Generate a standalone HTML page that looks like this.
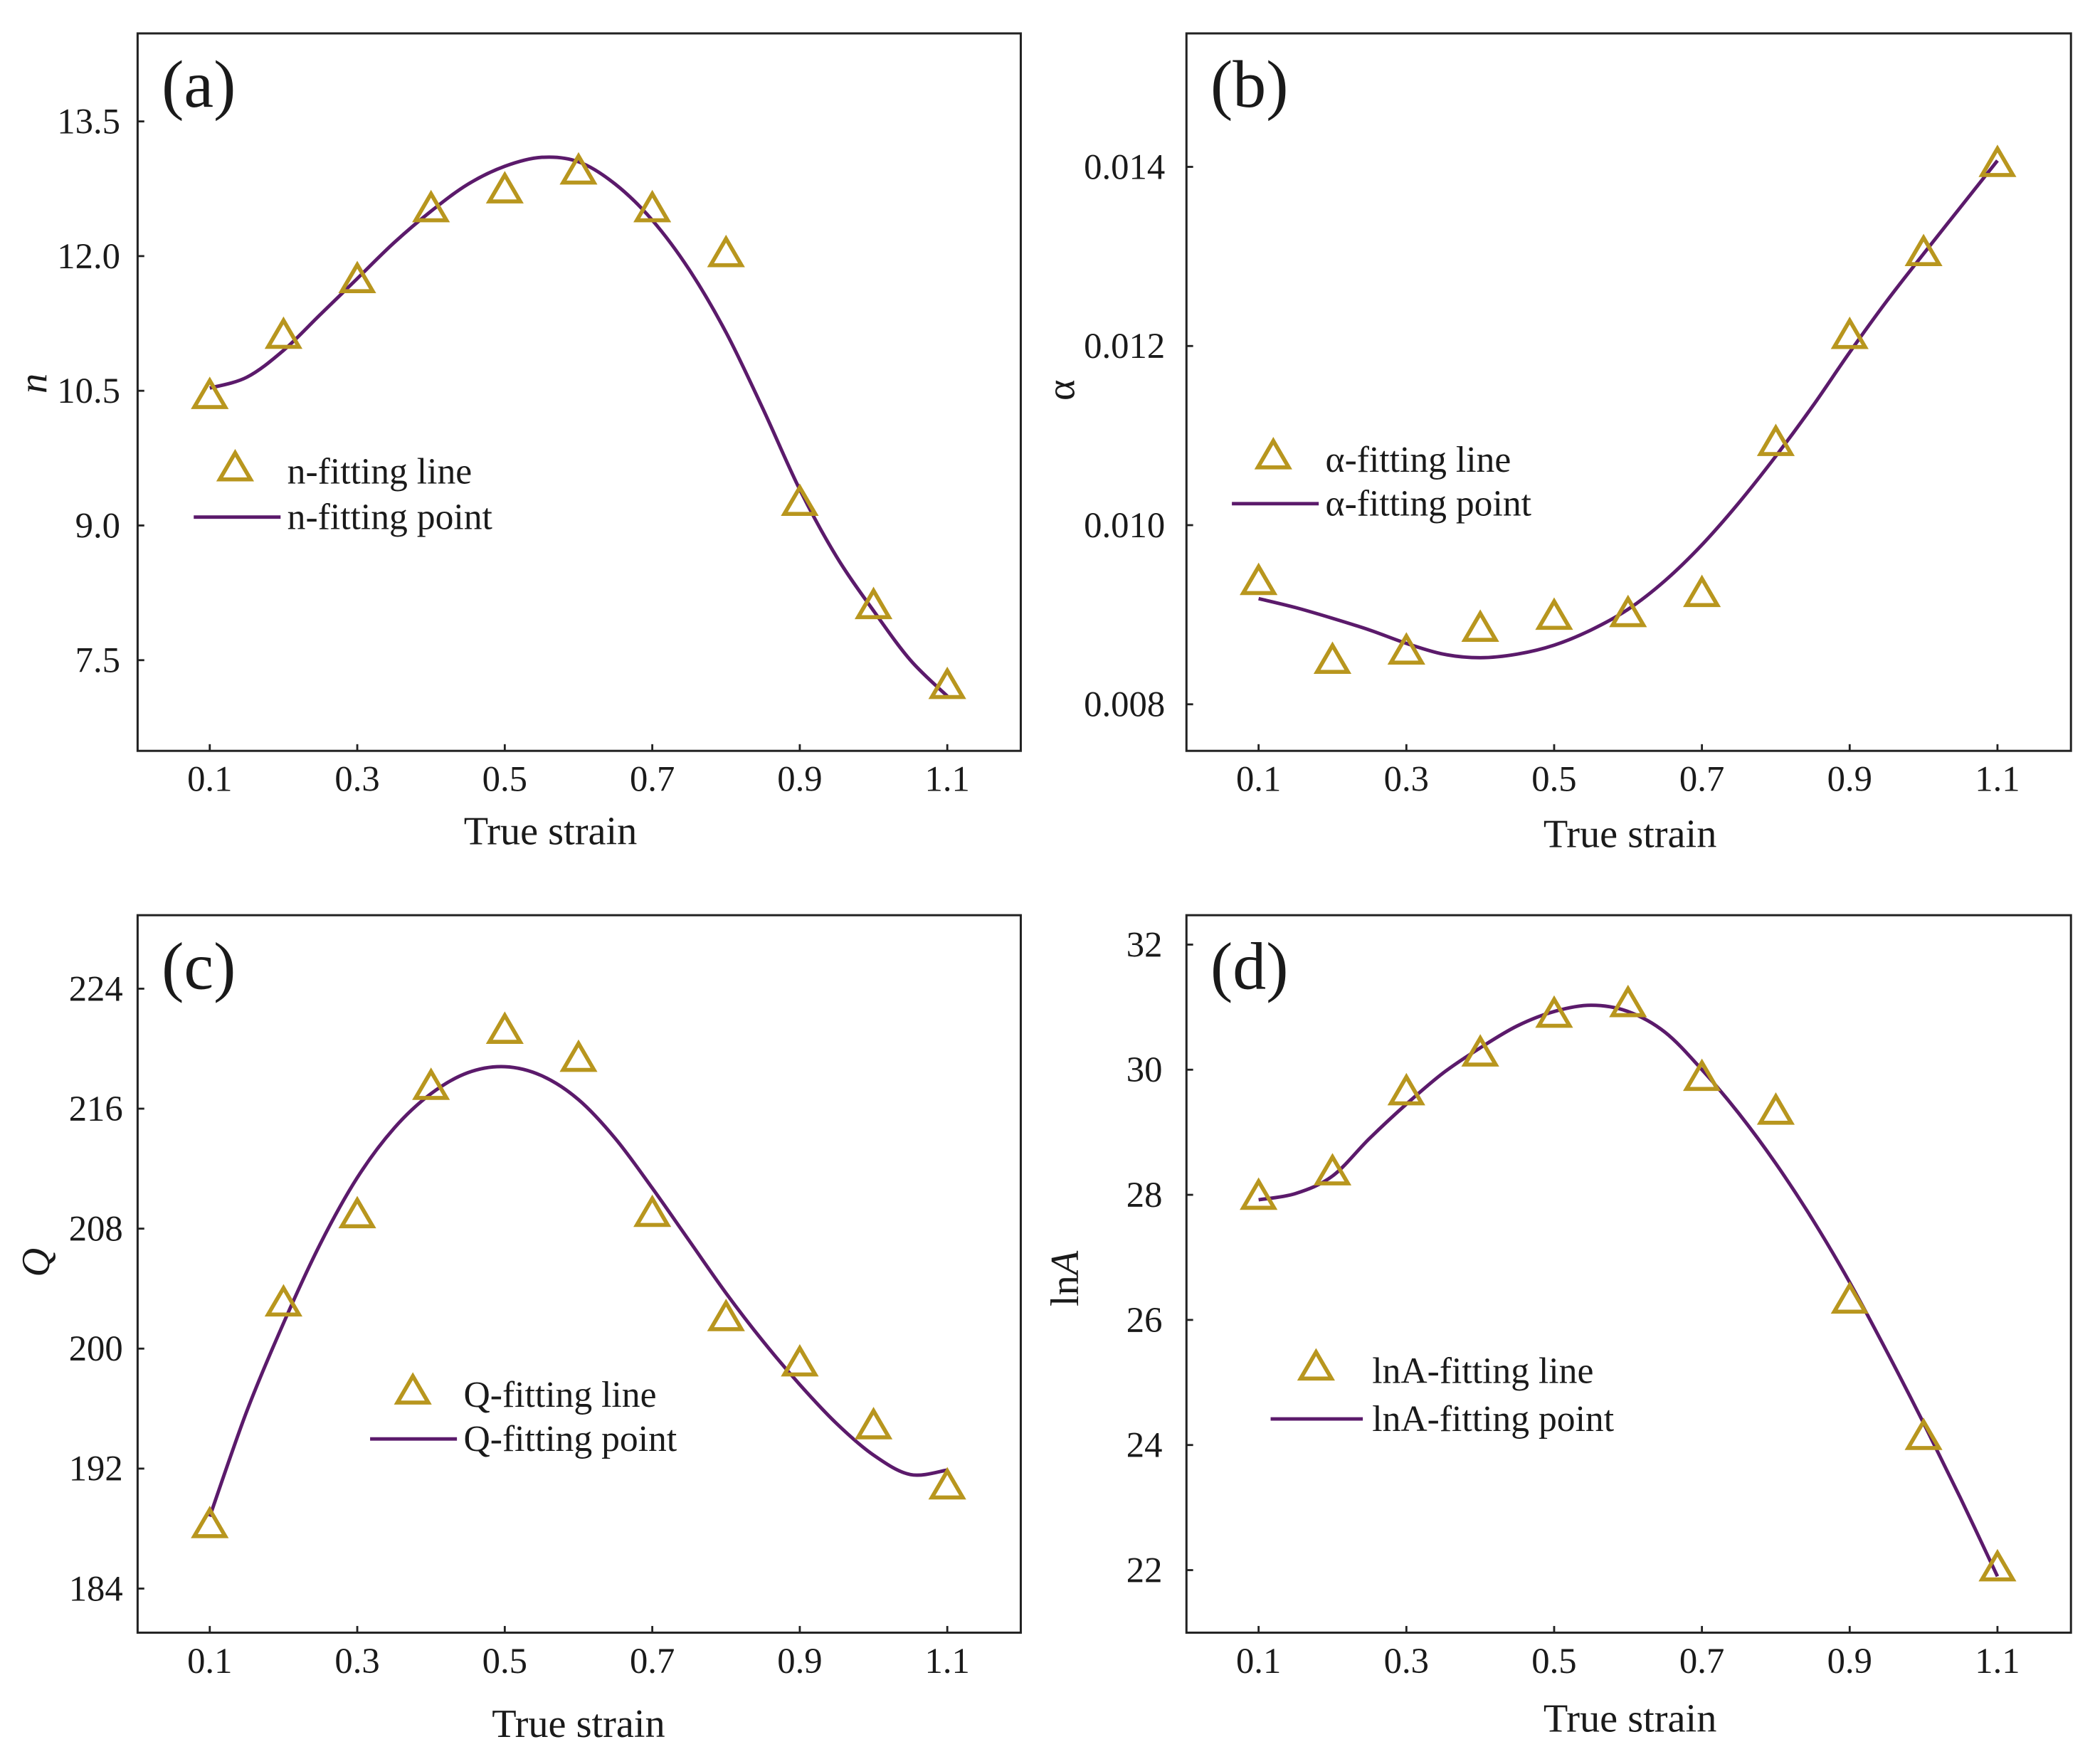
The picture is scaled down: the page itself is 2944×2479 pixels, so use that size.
<!DOCTYPE html>
<html><head><meta charset="utf-8"><style>
html,body{margin:0;padding:0;background:#fff;}
svg{display:block;}
text{font-family:"Liberation Serif",serif;fill:#1a1a1a;}
</style></head><body>
<svg id="fig" width="2944" height="2479" viewBox="0 0 1568 1320.3" preserveAspectRatio="none" xmlns="http://www.w3.org/2000/svg"></svg>
<script>
const xCats = [0.1,0.2,0.3,0.4,0.5,0.6,0.7,0.8,0.9,1.0,1.1];
const xTickLabels = ["0.1","0.3","0.5","0.7","0.9","1.1"];
const xTickValues = [0.1,0.3,0.5,0.7,0.9,1.1];
const curveX = [0.1,0.15,0.2,0.25,0.3,0.35,0.4,0.45,0.5,0.55,0.6,0.65,0.7,0.75,0.8,0.85,0.9,0.95,1.0,1.05,1.1];

const nPoints = [10.45,11.12,11.74,12.53,12.74,12.95,12.53,12.03,9.26,8.11,7.22];
const nCurve = [10.53,10.65,10.95,11.35,11.75,12.15,12.5,12.8,13.0,13.1,13.05,12.8,12.4,11.85,11.15,10.3,9.4,8.65,8.05,7.5,7.1];
const nTicks = [7.5,9.0,10.5,12.0,13.5];
const nTickLabels = ["7.5","9.0","10.5","12.0","13.5"];

const aPoints = [0.009373,0.008493,0.008597,0.008851,0.008985,0.009015,0.009239,0.010925,0.01212,0.013045,0.01404];
const aCurve = [0.00918,0.00908,0.00896,0.00883,0.00868,0.00856,0.00852,0.00856,0.00866,0.00883,0.00906,0.00938,0.00978,0.01025,0.01077,0.01133,0.01193,0.0125,0.01303,0.01355,0.01407];
const aTicks = [0.008,0.010,0.012,0.014];
const aTickLabels = ["0.008","0.010","0.012","0.014"];

const qPoints = [188.28,203.06,208.94,217.5,221.24,219.37,209.03,202.08,199.06,194.87,190.86];
const qCurve = [188.8,195.8,201.7,207.0,211.4,214.7,217.0,218.4,218.8,218.2,216.6,214.0,210.7,207.2,203.7,200.5,197.6,195.0,192.9,191.6,191.9];
const qTicks = [184,192,200,208,216,224];
const qTickLabels = ["184","192","200","208","216","224"];

const lPoints = [27.98,28.37,29.65,30.27,30.89,31.06,29.88,29.34,26.32,24.14,22.04];
const lCurve = [27.92,28.02,28.3,28.9,29.45,29.95,30.35,30.7,30.93,31.03,30.93,30.6,30.0,29.3,28.5,27.6,26.6,25.5,24.35,23.15,21.9];
const lTicks = [22,24,26,28,30,32];
const lTickLabels = ["22","24","26","28","30","32"];

const NS = "http://www.w3.org/2000/svg";
const svg = document.getElementById('fig');
function mk(tag, attrs, parent){const e=document.createElementNS(NS,tag);for(const k in attrs)e.setAttribute(k,attrs[k]);(parent||svg).appendChild(e);return e;}

const panels = [
 {id:'a',L:103,R:764,T:25,B:562,ymin:6.49,ymax:14.48,pts:nPoints,cur:nCurve,ticks:nTicks,tl:nTickLabels,ylab:'n',ylx:28,yly:287,ital:true,
  leg:{tx:176,ty:350,lx1:145,lx2:210,ly:387,txt:215},l1:'n-fitting line',l2:'n-fitting point',xt:412,xty:632,tlx:90},
 {id:'b',L:888,R:1550,T:25,B:562,ymin:0.00748,ymax:0.01549,pts:aPoints,cur:aCurve,ticks:aTicks,tl:aTickLabels,ylab:'α',ylx:797,yly:292,ital:false,
  leg:{tx:953,ty:341,lx1:922,lx2:987,ly:377,txt:992},l1:'α-fitting line',l2:'α-fitting point',xt:1220,xty:634,tlx:872},
 {id:'c',L:103,R:764,T:685,B:1222,ymin:181.06,ymax:228.9,pts:qPoints,cur:qCurve,ticks:qTicks,tl:qTickLabels,ylab:'Q',ylx:30,yly:945,ital:true,
  leg:{tx:309,ty:1041,lx1:277,lx2:342,ly:1077,txt:347},l1:'Q-fitting line',l2:'Q-fitting point',xt:433,xty:1300,tlx:92},
 {id:'d',L:888,R:1550,T:685,B:1222,ymin:21.0,ymax:32.47,pts:lPoints,cur:lCurve,ticks:lTicks,tl:lTickLabels,ylab:'lnA',ylx:800,yly:957,ital:false,
  leg:{tx:985,ty:1023,lx1:951,lx2:1020,ly:1062,txt:1027},l1:'lnA-fitting line',l2:'lnA-fitting point',xt:1220,xty:1296,tlx:870}
];

function tri(g,cx,cy,name){
  const s=11;
  const p=mk('polygon',{points:`${cx},${cy-s} ${cx-s*1.05},${cy+s*0.8} ${cx+s*1.05},${cy+s*0.8}`,fill:'none',stroke:'#b8961e','stroke-width':3,'stroke-linejoin':'miter'},g);
  
  
  return p;
}

panels.forEach(P=>{
  const g=mk('g',{});
  
  
  const x0=P.L+54, x1=P.R-55;
  const xs=v=>x0+(v-0.1)/(1.1-0.1)*(x1-x0);
  const ys=v=>P.B-(v-P.ymin)/(P.ymax-P.ymin)*(P.B-P.T);
  const fr=mk('rect',{x:P.L,y:P.T,width:P.R-P.L,height:P.B-P.T,fill:'none',stroke:'#222','stroke-width':1.6},g);
  
  
  xTickValues.forEach((v,i)=>{
    mk('line',{x1:xs(v),x2:xs(v),y1:P.B,y2:P.B-5,stroke:'#222','stroke-width':1.5},g);
    const t=mk('text',{x:xs(v),y:P.B+30,'text-anchor':'middle','font-size':27},g);
    t.textContent=xTickLabels[i];
    
    
  });
  P.ticks.forEach((v,i)=>{
    mk('line',{x1:P.L,x2:P.L+5,y1:ys(v),y2:ys(v),stroke:'#222','stroke-width':1.5},g);
    const t=mk('text',{x:P.tlx,y:ys(v)+9,'text-anchor':'end','font-size':27},g);
    t.textContent=P.tl[i];
    
    
  });
  const xt=mk('text',{x:P.xt,y:P.xty,'text-anchor':'middle','font-size':30},g);
  xt.textContent='True strain';
  
  
  const yt=mk('text',{x:P.ylx,y:P.yly,'text-anchor':'middle','font-size':30,transform:`rotate(-90 ${P.ylx} ${P.yly})`,'dominant-baseline':'middle'},g);
  if(P.ylab==='lnA'){yt.innerHTML='ln<tspan font-style="italic">A</tspan>';}
  else {yt.textContent=P.ylab; if(P.ital) yt.setAttribute('font-style','italic');}
  
  
  const pl=mk('text',{x:P.L+18,y:P.T+55,'font-size':50},g);
  pl.textContent='('+P.id+')';
  
  
  const pts=curveX.map((x,i)=>[xs(x),ys(P.cur[i])]);
  let d=`M${pts[0][0]},${pts[0][1]}`;
  for(let i=0;i<pts.length-1;i++){
    const p0=pts[Math.max(0,i-1)],p1=pts[i],p2=pts[i+1],p3=pts[Math.min(pts.length-1,i+2)];
    const c1=[p1[0]+(p2[0]-p0[0])/6,p1[1]+(p2[1]-p0[1])/6];
    const c2=[p2[0]-(p3[0]-p1[0])/6,p2[1]-(p3[1]-p1[1])/6];
    d+=` C${c1[0]},${c1[1]} ${c2[0]},${c2[1]} ${p2[0]},${p2[1]}`;
  }
  const cp=mk('path',{d:d,fill:'none',stroke:'#5b1a6b','stroke-width':2.6},g);
  
  
  xCats.forEach((x,i)=>{ tri(g,xs(x),ys(P.pts[i]),'data-point'); });
  const lg=mk('g',{},g);
  
  
  tri(lg,P.leg.tx,P.leg.ty,'legend-marker');
  const t1=mk('text',{x:P.leg.txt,y:P.leg.ty+12,'font-size':27.5},lg);
  t1.textContent=P.l1;
  
  
  const ll=mk('line',{x1:P.leg.lx1,x2:P.leg.lx2,y1:P.leg.ly,y2:P.leg.ly,stroke:'#5b1a6b','stroke-width':2.6},lg);
  
  
  const t2=mk('text',{x:P.leg.txt,y:P.leg.ly+9,'font-size':27.5},lg);
  t2.textContent=P.l2;
  
  
});
</script>
</body></html>
